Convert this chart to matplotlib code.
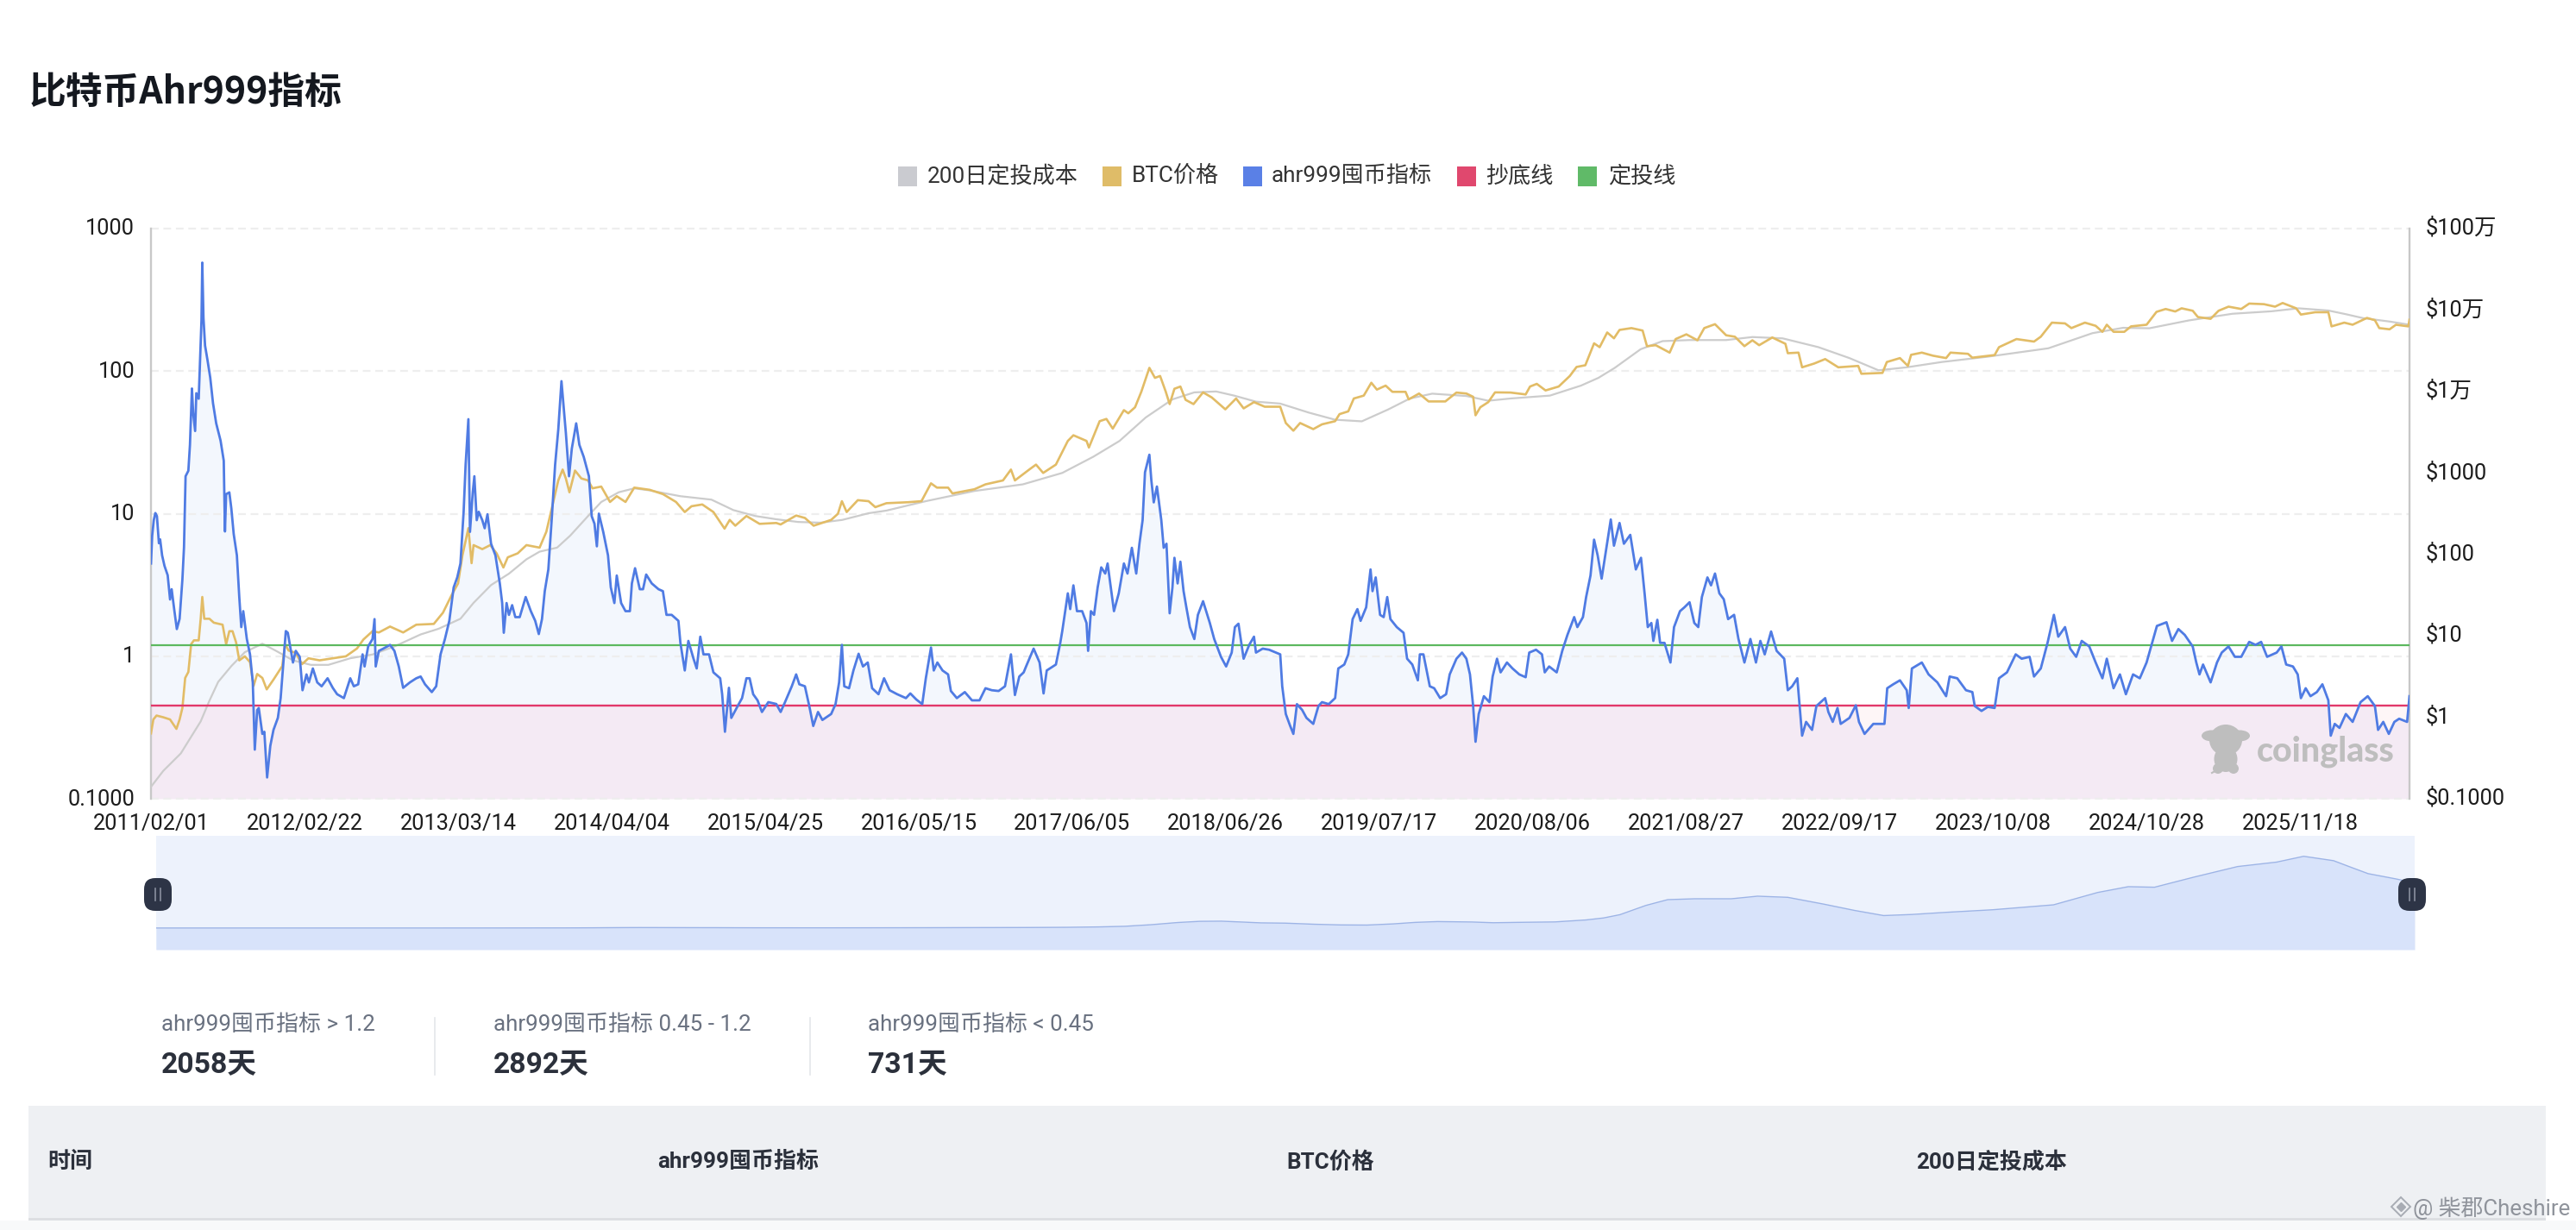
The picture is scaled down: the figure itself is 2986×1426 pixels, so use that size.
import matplotlib
matplotlib.use('Agg')
import matplotlib.pyplot as plt
from matplotlib.patches import Rectangle, Ellipse, FancyBboxPatch
from matplotlib.transforms import ScaledTranslation

plt.rcParams['font.family'] = ['Roboto', 'Noto Sans CJK SC', 'DejaVu Sans']

W, H = 2986, 1426

# day counted from 2011/02/01
ahr_points = [
    (0, 4.47), (3, 6.98), (7, 9.0), (11, 10.1), (15, 9.6), (20, 6.2), (23, 6.6), (28, 5.1), (34, 4.3),
    (42, 3.7), (48, 2.5), (52, 2.95), (59, 2.07), (65, 1.55), (72, 1.83), (79, 3.46), (83, 5.8), (87, 18.3),
    (94, 20), (98, 30.4), (103, 75.5), (106, 51), (111, 38), (114, 70), (120, 64), (123, 109), (127, 228),
    (129, 577), (132, 236), (136, 151), (142, 120), (149, 90), (156, 59.5), (164, 43), (175, 32.5), (183, 23.5),
    (186, 7.5), (189, 13.7), (197, 14.1), (202, 10.9), (208, 7.2), (216, 5.1), (222, 2.6), (227, 1.6), (232, 2.07),
    (241, 1.32), (249, 1.03), (256, .655), (261, .221), (267, .419), (271, .433), (280, .285), (285, .295),
    (292, .141), (300, .235), (308, .304), (319, .369), (326, .508), (333, .903), (339, 1.5), (344, 1.46),
    (352, 1.09), (357, .903), (364, 1.09), (374, .99), (381, .577), (391, .745), (397, .655), (407, .82),
    (418, .655), (429, .615), (444, .70), (457, .6), (468, .541), (485, .508), (501, .70), (510, .615),
    (521, .635), (532, 1.03), (537, .847), (546, 1.17), (557, 1.32), (562, 1.82), (565, .847), (573, 1.09),
    (584, 1.13), (601, 1.2), (612, 1.09), (623, .847), (634, .6), (651, .655), (667, .70), (678, .72),
    (689, .635), (706, .56), (717, .615), (728, 1.03), (739, 1.32), (750, 1.77), (761, 3.04), (770, 3.57),
    (778, 4.47), (786, 10.3), (791, 22), (798, 46), (802, 7.45), (809, 14.1), (813, 18.3), (819, 9.0),
    (824, 10.3), (833, 9.0), (839, 7.9), (846, 9.9), (855, 6.15), (866, 5.1), (877, 3.24), (883, 2.36),
    (887, 1.46), (894, 2.36), (900, 1.95), (908, 2.28), (916, 1.88), (927, 1.88), (942, 2.6), (955, 2.07),
    (966, 1.77), (975, 1.43), (983, 1.82), (990, 2.86), (999, 4.06), (1008, 9.6), (1016, 22), (1024, 39),
    (1032, 85), (1038, 54), (1043, 37), (1051, 18.3), (1058, 28.6), (1069, 43), (1077, 30.4), (1088, 25),
    (1101, 18.3), (1108, 9.6), (1115, 8.5), (1121, 5.9), (1126, 10), (1137, 7.45), (1149, 5.1), (1156, 3.04),
    (1165, 2.36), (1171, 3.68), (1182, 2.36), (1193, 2.07), (1204, 2.07), (1209, 3.24), (1217, 4.14), (1229, 2.95),
    (1237, 2.95), (1245, 3.74), (1259, 3.24), (1276, 2.95), (1287, 2.86), (1296, 1.95), (1309, 1.95), (1326, 1.77),
    (1331, 1.24), (1342, .794), (1351, 1.28), (1364, .96), (1372, .82), (1381, 1.37), (1389, 1.03), (1403, 1.03),
    (1414, .77), (1431, .70), (1436, .541), (1443, .295), (1453, .6), (1459, .369), (1475, .447), (1486, .508),
    (1497, .70), (1505, .70), (1514, .541), (1525, .49), (1536, .406), (1552, .476), (1572, .462),
    (1583, .406), (1594, .476), (1611, .615), (1622, .745), (1630, .635), (1644, .615), (1655, .447), (1665, .324),
    (1677, .406), (1688, .357), (1710, .393), (1721, .461), (1730, .655), (1737, 1.2), (1743, .615), (1755, .596),
    (1766, .794), (1779, 1.04), (1790, .847), (1802, .903), (1813, .596), (1829, .541), (1843, .70), (1857, .577),
    (1876, .541), (1898, .508), (1909, .548), (1924, .497), (1939, .461), (1948, .70), (1961, 1.15), (1968, .794),
    (1977, .903), (1990, .794), (2004, .745), (2011, .57), (2026, .508), (2046, .56), (2064, .49), (2083, .49),
    (2098, .596), (2114, .577), (2131, .57), (2147, .615), (2162, 1.03), (2172, .534), (2183, .72), (2194, .77),
    (2200, .847), (2219, 1.13), (2234, .903), (2244, .548), (2252, .794), (2275, .874), (2286, 1.24), (2291, 1.5),
    (2305, 2.76), (2311, 2.14), (2319, 3.14), (2328, 2.07), (2341, 2.07), (2352, 1.71), (2356, 1.09), (2363, 2.07),
    (2371, 1.95), (2380, 3.04), (2389, 4.2), (2399, 3.8), (2405, 4.47), (2413, 3.04), (2421, 2.07), (2433, 2.76),
    (2446, 4.47), (2455, 3.8), (2466, 5.76), (2477, 3.8), (2485, 6.15), (2493, 9.0), (2499, 19.5), (2510, 25.9),
    (2515, 17.1), (2521, 12), (2529, 15.5), (2540, 9), (2546, 5.76), (2553, 6.15), (2561, 2.0), (2568, 3.04),
    (2573, 4.9), (2581, 3.24), (2588, 4.6), (2596, 2.86), (2603, 2.2), (2612, 1.6), (2623, 1.32), (2632, 1.95),
    (2645, 2.43), (2662, 1.71), (2673, 1.32), (2690, .99), (2703, .847), (2717, 1.06), (2725, 1.6), (2734, 1.69),
    (2747, .96), (2761, 1.2), (2773, 1.37), (2778, 1.06), (2795, 1.13), (2811, 1.11), (2839, 1.03), (2844, .615),
    (2853, .393), (2864, .324), (2872, .285), (2881, .461), (2894, .42), (2905, .369), (2922, .335), (2935, .447),
    (2944, .476), (2961, .461), (2977, .508), (2985, .82), (3000, .874), (3010, 1.03), (3021, 1.82), (3033, 2.14),
    (3041, 1.77), (3055, 2.2), (3066, 4.06), (3071, 2.86), (3079, 3.57), (3090, 1.95), (3099, 1.88), (3108, 2.6),
    (3116, 1.82), (3132, 1.6), (3149, 1.46), (3158, .96), (3171, .874), (3185, .677), (3190, 1.03), (3199, 1.03),
    (3215, .615), (3226, .596), (3241, .508), (3256, .541), (3265, .745), (3282, .96), (3296, 1.06), (3307, .96),
    (3316, .745), (3324, .447), (3330, .251), (3338, .393), (3351, .524), (3365, .476), (3373, .72), (3384, .96),
    (3393, .77), (3409, .903), (3423, .82), (3440, .745), (3456, .712), (3465, 1.06), (3482, 1.11), (3497, 1.03),
    (3504, .77), (3515, .847), (3534, .77), (3548, 1.09), (3561, 1.41), (3578, 1.88), (3586, 1.6), (3600, 1.88),
    (3608, 2.6), (3619, 3.68), (3628, 6.57), (3637, 5.1), (3647, 3.5), (3659, 5.76), (3670, 9.1), (3678, 5.96),
    (3692, 8.6), (3703, 6.15), (3719, 7.1), (3733, 4.06), (3746, 4.9), (3755, 2.76), (3763, 1.6), (3772, 1.71),
    (3777, 1.28), (3787, 1.8), (3794, 1.24), (3805, 1.24), (3820, .903), (3829, 1.6), (3844, 2.07), (3855, 2.2),
    (3868, 2.39), (3880, 1.71), (3890, 1.6), (3899, 2.6), (3913, 3.57), (3922, 3.14), (3932, 3.8), (3943, 2.76),
    (3954, 2.51), (3965, 1.82), (3980, 1.95), (3991, 1.32), (4006, .903), (4021, 1.32), (4035, .903), (4046, 1.28),
    (4057, 1.03), (4073, 1.49), (4087, 1.09), (4106, .96), (4115, .577), (4126, .615), (4139, .70), (4151, .277),
    (4161, .346), (4176, .304), (4187, .447), (4209, .508), (4217, .406), (4228, .346), (4240, .433), (4248, .335),
    (4270, .369), (4286, .452), (4294, .346), (4308, .285), (4330, .335), (4358, .335), (4365, .596), (4380, .635),
    (4397, .677), (4414, .577), (4419, .433), (4427, .82), (4452, .903), (4469, .745), (4491, .655), (4513, .524),
    (4522, .72), (4541, .70), (4563, .577), (4579, .56), (4585, .447), (4602, .413), (4618, .441), (4635, .433),
    (4646, .70), (4666, .77), (4688, 1.03), (4703, .96), (4723, .99), (4734, .72), (4751, .82), (4768, 1.24),
    (4784, 1.95), (4795, 1.37), (4812, 1.6), (4825, 1.13), (4840, .99), (4854, 1.28), (4873, 1.17), (4889, .903),
    (4906, .70), (4917, .96), (4934, .596), (4950, .745), (4965, .541), (4983, .745), (5000, .70), (5017, .903),
    (5031, 1.24), (5043, 1.63), (5067, 1.73), (5081, 1.28), (5097, 1.55), (5113, 1.41), (5133, 1.17), (5142, .903),
    (5150, .745), (5159, .874), (5178, .655), (5194, .903), (5206, 1.06), (5223, 1.17), (5239, .99), (5255, .99),
    (5275, 1.26), (5291, 1.2), (5305, 1.26), (5320, .99), (5344, 1.06), (5356, 1.17), (5368, .874), (5385, .847),
    (5397, .745), (5405, .508), (5417, .596), (5429, .524), (5445, .56), (5459, .635), (5474, .49), (5480, .277),
    (5490, .335), (5502, .314), (5518, .393), (5535, .346), (5555, .476), (5573, .524), (5591, .447), (5599, .304),
    (5612, .346), (5626, .285), (5640, .346), (5652, .364), (5672, .346), (5678, .524),
]

# day, price
btc_points = [
    (0, .634), (6, .94), (14, 1.05), (31, 1.0), (48, .94), (64, .72), (72, .94), (79, 1.3), (86, 3.04), (94, 3.6),
    (101, 7.9), (108, 8.8), (120, 8.8), (125, 16.2), (129, 30), (134, 16.2), (147, 16.2), (158, 14.5), (180, 13.7),
    (189, 7.9), (197, 11.4), (205, 11.4), (214, 8.3), (222, 5), (236, 5.6), (249, 4.75), (258, 2.43), (267, 3.4),
    (280, 3.04), (291, 2.2), (308, 2.9), (330, 4.25), (337, 7.9), (346, 6.6), (363, 6.2), (380, 4.5), (396, 5.3),
    (424, 5), (457, 5.3), (490, 5.6), (518, 7), (534, 9), (557, 11.4), (573, 11), (601, 13), (634, 11), (667, 13.7),
    (711, 14), (734, 19.2), (756, 31.7), (772, 44), (783, 97), (798, 210), (806, 78), (811, 130), (833, 116),
    (853, 130), (869, 103), (886, 69), (897, 92), (922, 103), (944, 130), (977, 121), (994, 190), (1010, 414),
    (1024, 809), (1035, 1100), (1043, 855), (1052, 579), (1066, 1070), (1082, 855), (1099, 809), (1110, 647),
    (1132, 680), (1154, 440), (1171, 518), (1193, 440), (1215, 660), (1254, 620), (1287, 550), (1320, 440),
    (1342, 331), (1359, 390), (1386, 410), (1414, 331), (1442, 207), (1455, 265), (1469, 225), (1497, 296),
    (1530, 237), (1572, 243), (1583, 233), (1622, 300), (1644, 280), (1666, 225), (1710, 265), (1727, 315),
    (1737, 450), (1749, 331), (1777, 463), (1804, 450), (1821, 380), (1849, 425), (1904, 437), (1937, 450),
    (1961, 745), (1976, 660), (2004, 660), (2015, 560), (2070, 630), (2098, 724), (2142, 809), (2162, 1100),
    (2172, 809), (2208, 1100), (2225, 1265), (2243, 1000), (2275, 1265), (2305, 2471), (2319, 2900), (2352, 2471),
    (2358, 2050), (2385, 4318), (2402, 4600), (2418, 3500), (2446, 5900), (2457, 5400), (2474, 6400), (2490, 10000),
    (2510, 19500), (2524, 14700), (2537, 15500), (2551, 10000), (2561, 7000), (2573, 10800), (2588, 11500),
    (2601, 7900), (2621, 7000), (2645, 9750), (2667, 8436), (2701, 6035), (2728, 8200), (2747, 6200), (2773, 7400),
    (2800, 6500), (2839, 6500), (2853, 4100), (2872, 3300), (2889, 4100), (2922, 3450), (2944, 3950), (2977, 4318),
    (2988, 5270), (3010, 5700), (3024, 8200), (3049, 8900), (3068, 12800), (3082, 10546), (3104, 11800), (3121, 9900),
    (3154, 9900), (3162, 8000), (3188, 9432), (3212, 7545), (3254, 7545), (3282, 9700), (3307, 9432), (3324, 8600),
    (3330, 5100), (3342, 6400), (3362, 7400), (3379, 9750), (3418, 9700), (3456, 9200), (3467, 11500), (3484, 12400),
    (3506, 10300), (3539, 11500), (3567, 15500), (3584, 20000), (3606, 21000), (3628, 39000), (3642, 35000),
    (3661, 53000), (3678, 45000), (3692, 57000), (3722, 60000), (3750, 56000), (3761, 36000), (3783, 37000),
    (3818, 30000), (3833, 44000), (3860, 50300), (3888, 42500), (3905, 60000), (3932, 67000), (3960, 49000),
    (3982, 47000), (4006, 36000), (4026, 42500), (4043, 37000), (4076, 46000), (4109, 38500), (4115, 29500),
    (4142, 30000), (4151, 19800), (4181, 22000), (4209, 25000), (4242, 19800), (4292, 20600), (4300, 16500),
    (4353, 16900), (4364, 23000), (4397, 25700), (4417, 20600), (4425, 28200), (4452, 30000), (4480, 27500),
    (4513, 25700), (4524, 30000), (4568, 29000), (4579, 26000), (4635, 28000), (4646, 35000), (4690, 44000),
    (4734, 41000), (4751, 47000), (4779, 70000), (4812, 68500), (4828, 60000), (4862, 70000), (4889, 64000),
    (4906, 54000), (4917, 66000), (4934, 54000), (4961, 54000), (4978, 63000), (5017, 66000), (5042, 95000),
    (5065, 103000), (5089, 96000), (5105, 105000), (5133, 98000), (5146, 82000), (5178, 78000), (5198, 98000),
    (5223, 110000), (5255, 103000), (5275, 120000), (5312, 118000), (5340, 110000), (5359, 122000), (5393, 105000),
    (5405, 88000), (5441, 94000), (5474, 94000), (5482, 63000), (5514, 70000), (5535, 66000), (5571, 80000),
    (5591, 75000), (5602, 60000), (5628, 58000), (5644, 66000), (5675, 63000), (5678, 76000),
]

cost_points = [
    (0, .14), (31, .22), (75, .36), (125, .89), (147, 1.6), (169, 2.72), (202, 4.25), (236, 6.3), (280, 8), (313, 6.6),
    (357, 5), (402, 4.4), (446, 4.4), (501, 5.3), (557, 5.9), (612, 7.4), (678, 10.4), (723, 12.2), (778, 16.2),
    (811, 25.4), (855, 42), (900, 58), (944, 87), (977, 108), (1021, 121), (1054, 170), (1099, 296), (1132, 440),
    (1176, 579), (1215, 647), (1254, 610), (1331, 518), (1409, 470), (1464, 350), (1519, 296), (1572, 270),
    (1627, 250), (1683, 245), (1738, 265), (1804, 320), (1849, 345), (1948, 450), (2070, 600), (2192, 724),
    (2291, 1000), (2369, 1580), (2435, 2471), (2501, 4800), (2568, 8000), (2623, 9750), (2678, 10000), (2723, 8900),
    (2778, 7500), (2839, 7100), (2911, 5500), (2977, 4500), (3044, 4300), (3110, 6000), (3165, 8200), (3221, 9400),
    (3307, 8800), (3362, 7700), (3418, 8200), (3517, 8900), (3595, 11800), (3639, 14700), (3680, 19500), (3745, 33000),
    (3800, 41500), (3868, 42800), (3960, 42800), (4026, 46600), (4102, 44900), (4192, 35000), (4270, 25700),
    (4343, 18200), (4414, 19800), (4502, 23000), (4617, 26700), (4770, 33900), (4881, 52000), (4958, 60500),
    (5024, 59700), (5123, 74500), (5233, 90000), (5331, 96500), (5399, 105000), (5474, 98600), (5518, 88900),
    (5561, 79600), (5630, 72000), (5678, 66000),
]

x_labels = ['2011/02/01', '2012/02/22', '2013/03/14', '2014/04/04', '2015/04/25', '2016/05/15', '2017/06/05',
            '2018/06/26', '2019/07/17', '2020/08/06', '2021/08/27', '2022/09/17', '2023/10/08', '2024/10/28',
            '2025/11/18']
x_ticks = [386 * i for i in range(len(x_labels))]

left_ticks = [1000, 100, 10, 1, 0.1]
left_labels = ['1000', '100', '10', '1', '0.1000']
right_ticks = [1e6, 1e5, 1e4, 1e3, 100, 10, 1, 0.1]
right_labels = ['$100万', '$10万', '$1万', '$1000', '$100', '$10', '$1', '$0.1000']

bottom_line = 0.45
buy_line = 1.2
last_day = 5678

legend_items = [('200日定投成本', '#CACBD0'), ('BTC价格', '#DFBC68'), ('ahr999囤币指标', '#5A80E6'),
                ('抄底线', '#E0486E'), ('定投线', '#60BA68')]
stat_titles = ['ahr999囤币指标 > 1.2', 'ahr999囤币指标 0.45 - 1.2', 'ahr999囤币指标 < 0.45']
stat_values = ['2058天', '2892天', '731天']
table_heads = ['时间', 'ahr999囤币指标', 'BTC价格', '200日定投成本']

ahr_days, ahr_vals = zip(*ahr_points)
btc_days, btc_vals = zip(*btc_points)
cost_days, cost_vals = zip(*cost_points)


def axes_at(fig, x0, y0, x1, y1, **kw):
    # pixel box with y measured from the top of the image
    return fig.add_axes([x0 / W, 1 - y1 / H, (x1 - x0) / W, (y1 - y0) / H], **kw)


def nudge_up(labels, px):
    for lab in labels:
        lab.set_transform(lab.get_transform() + ScaledTranslation(0, px / 100, fig.dpi_scale_trans))


fig = plt.figure(figsize=(W / 100, H / 100), dpi=100, facecolor='white')

ax = axes_at(fig, 175, 265, 2793, 926)
ax.set_yscale('log')
ax.set_ylim(0.1, 1000)
ax.set_xlim(0, last_day)
ax.axhspan(0.1, bottom_line, color='#FEF6F7', lw=0, zorder=0)

upper = ax.fill_between(ahr_days, 0.1, ahr_vals, color='#F3F7FD', lw=0, zorder=1)
upper.set_clip_path(Rectangle((0, bottom_line), last_day, 1000, transform=ax.transData))
lower = ax.fill_between(ahr_days, 0.1, ahr_vals, color='#F4EAF4', lw=0, zorder=1)
lower.set_clip_path(Rectangle((0, 0.1), last_day, bottom_line - 0.1, transform=ax.transData))

for t in left_ticks:
    ax.axhline(t, color='#EEEEEE', lw=1.6, ls=(0, (4, 2.5)), zorder=2, clip_on=False)

ax.set_yticks(left_ticks, left_labels)
ax.set_xticks(x_ticks, x_labels)
ax.minorticks_off()
ax.tick_params(axis='y', length=0, pad=13.5, labelsize=18.3, labelcolor='#1c1c1c')
ax.tick_params(axis='x', length=0, pad=12.5, labelsize=18.3, labelcolor='#1c1c1c')
nudge_up(ax.get_yticklabels(), 2)
for side in ['top', 'bottom']:
    ax.spines[side].set_visible(False)
for side in ['left', 'right']:
    ax.spines[side].set_color('#C8C8C8')
    ax.spines[side].set_linewidth(1.7)

# price axis sits between the fills and the indicator line
ax_price = ax.twinx()
ax_price.set_yscale('log')
ax_price.set_ylim(0.1, 1e6)
ax_price.set_yticks(right_ticks, right_labels)
ax_price.minorticks_off()
ax_price.tick_params(axis='y', length=0, pad=13.5, labelsize=18.3, labelcolor='#1c1c1c')
nudge_up(ax_price.get_yticklabels(), 3)
ax_price.plot(cost_days, cost_vals, color='#CCCCCC', lw=1.6)
ax_price.plot(btc_days, btc_vals, color='#E2BC66', lw=1.9)
for s in ax_price.spines.values():
    s.set_visible(False)

ax_line = ax.twinx()
ax_line.set_yscale('log')
ax_line.set_ylim(0.1, 1000)
ax_line.set_yticks([])
ax_line.minorticks_off()
ax_line.axhline(buy_line, color='#5CB85F', lw=1.6)
ax_line.axhline(bottom_line, color='#E2386A', lw=1.7)
ax_line.plot(ahr_days, ahr_vals, color='#4F7BE3', lw=2.0, solid_joinstyle='round')
for s in ax_line.spines.values():
    s.set_visible(False)

# range slider under the chart
nav = axes_at(fig, 181, 969, 2799, 1101)
nav.set_xlim(0, last_day)
nav.set_ylim(-31750, 135000)
nav.axis('off')
nav.add_patch(Rectangle((0, 0), 1, 1, transform=nav.transAxes, color='#EDF2FC', zorder=0))
nav.fill_between(cost_days, -31750, cost_vals, color='#D8E3FA', lw=0)
nav.plot(cost_days, cost_vals, color='#9DB4E6', lw=1)

# page furniture in image pixels
page = axes_at(fig, 0, 0, W, H)
page.set_xlim(0, W)
page.set_ylim(H, 0)
page.axis('off')
page.patch.set_alpha(0)

page.text(34, 107, '比特币Ahr999指标', family=['Noto Sans CJK SC'], fontsize=30.8, weight='bold', color='#14181F',
          va='center', ha='left')

swatch_x = [1041, 1278, 1441, 1689, 1829]
text_x = [1075, 1312, 1474, 1722, 1864]
for (label, c), sx, tx in zip(legend_items, swatch_x, text_x):
    page.add_patch(Rectangle((sx, 193), 22, 23, color=c, lw=0))
    page.text(tx, 204, label, fontsize=18.8, color='#333333', va='center', ha='left')

for hx in [183, 2796]:
    page.add_patch(FancyBboxPatch((hx - 16, 1018), 32, 38, boxstyle='round,pad=0,rounding_size=13', lw=0,
                                  fc='#2D3446'))
    page.plot([hx - 3, hx - 3], [1030, 1044], color='#8A90A0', lw=1.2)
    page.plot([hx + 3, hx + 3], [1030, 1044], color='#8A90A0', lw=1.2)

stat_x = [187, 572, 1006]
for sx, title, val in zip(stat_x, stat_titles, stat_values):
    page.text(sx, 1188, title, fontsize=18.7, color='#697180', va='center', ha='left')
    page.text(sx, 1235, val, fontsize=24.3, weight='bold', color='#2B303B', va='center', ha='left')
for sep in [504, 939]:
    page.plot([sep, sep], [1180, 1246], color='#E4E6EA', lw=1.2)

page.add_patch(Rectangle((0, 1415), W, 11, color='#F8F9FA', lw=0))
page.add_patch(Rectangle((33, 1282), 2918, 131, color='#EEF0F3', lw=0))
page.add_patch(Rectangle((33, 1412), 2918, 3, color='#DDDFE2', lw=0))
for hx, head in zip([55, 762, 1491, 2221], table_heads):
    page.text(hx, 1347, head, fontsize=18.7, weight='bold', color='#2B303B', va='center', ha='left')

# coinglass mark
mark = '#BEBEBE'
page.add_patch(Ellipse((2580, 858), 38, 36, color=mark, lw=0))
page.add_patch(Ellipse((2564, 853), 24, 13, color=mark, lw=0))
page.add_patch(Ellipse((2596, 853), 24, 13, color=mark, lw=0))
page.add_patch(Ellipse((2580, 880), 27, 30, color=mark, lw=0))
page.add_patch(Ellipse((2571, 891), 12, 12, color=mark, lw=0))
page.add_patch(Ellipse((2589, 891), 12, 12, color=mark, lw=0))
page.plot([2564, 2571], [896, 892], color=mark, lw=1.5)
page.text(2616, 871, 'coinglass', family=['Lato'], fontsize=28.4, weight='black', color=mark, va='center', ha='left')

# repost watermark
page.plot([2783], [1399], marker='D', ms=11, mfc='none', mec='#A8ACB4', mew=1.4)
page.plot([2783], [1399], marker='D', ms=5, color='#A8ACB4')
page.text(2797, 1401, '@ 柴郡Cheshire', fontsize=18.6, color='#8F939B', va='center', ha='left')

fig.savefig('out.png', dpi=100)
